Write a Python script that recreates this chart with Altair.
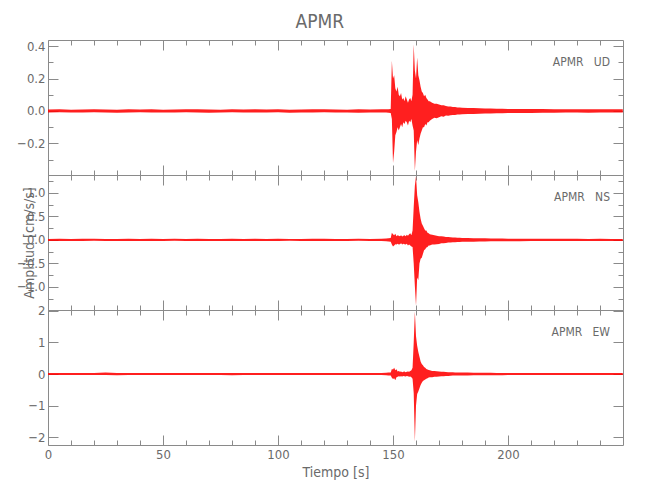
import altair as alt
import pandas as pd

STATION = "APMR"
CHANNELS = ["UD", "NS", "EW"]

# time nodes (s) of the amplitude envelope
TIME = [0, 5, 10, 15, 20, 25, 30, 35, 40, 45, 50, 55, 60, 65, 70, 75, 80, 85, 90, 95,
        100, 105, 110, 115, 120, 125, 130, 135, 140, 145,
        147, 148, 149, 149.5, 150, 150.5, 151, 151.5, 152, 152.5, 153, 153.5, 154, 154.5,
        155, 155.5, 156, 156.5, 157, 157.5, 158, 158.5, 159, 159.5, 160, 160.5, 161, 161.5,
        162, 162.5, 163, 163.5, 164, 164.5, 165, 165.5, 166,
        167, 168, 169, 170, 171, 172, 173, 174, 175, 176, 177, 178, 179, 180,
        182.5, 185, 187.5, 190, 192.5, 195, 197.5, 200,
        205, 210, 215, 220, 225, 230, 235, 240, 245, 249.9]

# UD component: upper / lower envelope (cm/s/s)
UD_HI = [0.009, 0.010, 0.008, 0.009, 0.011, 0.009, 0.008, 0.010, 0.009, 0.010,
         0.008, 0.009, 0.011, 0.010, 0.009, 0.008, 0.010, 0.009, 0.011, 0.009,
         0.010, 0.008, 0.009, 0.010, 0.011, 0.009, 0.008, 0.010, 0.009, 0.010,
         0.010, 0.011, 0.012, 0.31, 0.20, 0.22, 0.14, 0.12, 0.15, 0.10, 0.09, 0.11, 0.07, 0.08,
         0.06, 0.09, 0.07, 0.05, 0.07, 0.08, 0.06, 0.10, 0.41, 0.25, 0.20, 0.33, 0.22, 0.19,
         0.15, 0.12, 0.11, 0.09, 0.10, 0.08, 0.07, 0.06, 0.06,
         0.05, 0.045, 0.045, 0.04, 0.035, 0.035, 0.03, 0.028, 0.027, 0.025, 0.024, 0.022, 0.021, 0.02,
         0.019, 0.018, 0.017, 0.016, 0.015, 0.014, 0.014, 0.013,
         0.013, 0.012, 0.012, 0.011, 0.011, 0.010, 0.010, 0.011, 0.010, 0.010]
UD_LO = [-0.009, -0.008, -0.010, -0.009, -0.008, -0.010, -0.011, -0.009, -0.008, -0.010,
         -0.009, -0.010, -0.008, -0.009, -0.011, -0.010, -0.008, -0.009, -0.010, -0.009,
         -0.008, -0.011, -0.010, -0.009, -0.008, -0.010, -0.009, -0.011, -0.010, -0.009,
         -0.010, -0.011, -0.012, -0.05, -0.32, -0.25, -0.15, -0.13, -0.10, -0.12, -0.10, -0.08, -0.10, -0.07,
         -0.08, -0.06, -0.07, -0.09, -0.06, -0.07, -0.05, -0.09, -0.12, -0.37, -0.25, -0.18, -0.21, -0.17,
         -0.14, -0.12, -0.10, -0.10, -0.08, -0.09, -0.07, -0.07, -0.06,
         -0.05, -0.042, -0.045, -0.038, -0.033, -0.035, -0.028, -0.029, -0.026, -0.025, -0.024, -0.022, -0.021, -0.02,
         -0.019, -0.018, -0.017, -0.016, -0.015, -0.014, -0.014, -0.013,
         -0.012, -0.012, -0.011, -0.011, -0.010, -0.010, -0.011, -0.010, -0.010, -0.010]

# NS component
NS_HI = [0.022, 0.024, 0.020, 0.023, 0.025, 0.021, 0.022, 0.024, 0.020, 0.023,
         0.022, 0.025, 0.021, 0.023, 0.022, 0.020, 0.024, 0.022, 0.023, 0.021,
         0.025, 0.022, 0.020, 0.023, 0.024, 0.022, 0.021, 0.023, 0.022, 0.024,
         0.03, 0.035, 0.04, 0.15, 0.12, 0.10, 0.13, 0.08, 0.10, 0.09, 0.08, 0.10, 0.07, 0.09,
         0.10, 0.08, 0.11, 0.09, 0.12, 0.14, 0.10, 0.20, 0.70, 1.15, 1.36, 0.95, 0.80, 0.60,
         0.45, 0.35, 0.30, 0.25, 0.20, 0.20, 0.15, 0.14, 0.12,
         0.11, 0.10, 0.09, 0.08, 0.08, 0.07, 0.06, 0.06, 0.055, 0.05, 0.05, 0.045, 0.045, 0.04,
         0.04, 0.038, 0.036, 0.034, 0.032, 0.030, 0.028, 0.027,
         0.026, 0.025, 0.024, 0.024, 0.023, 0.023, 0.022, 0.023, 0.022, 0.022]
NS_LO = [-0.023, -0.021, -0.024, -0.022, -0.020, -0.023, -0.025, -0.022, -0.021, -0.024,
         -0.022, -0.020, -0.023, -0.024, -0.021, -0.022, -0.025, -0.023, -0.021, -0.022,
         -0.024, -0.020, -0.022, -0.023, -0.021, -0.024, -0.022, -0.020, -0.023, -0.022,
         -0.03, -0.035, -0.04, -0.10, -0.14, -0.12, -0.09, -0.10, -0.08, -0.10, -0.09, -0.07, -0.10, -0.08,
         -0.09, -0.10, -0.08, -0.12, -0.10, -0.12, -0.14, -0.15, -0.50, -0.98, -1.40, -0.80, -0.85, -0.50,
         -0.40, -0.38, -0.30, -0.22, -0.20, -0.16, -0.15, -0.12, -0.12,
         -0.10, -0.10, -0.09, -0.085, -0.07, -0.07, -0.065, -0.055, -0.055, -0.05, -0.048, -0.045, -0.042, -0.04,
         -0.04, -0.037, -0.035, -0.033, -0.031, -0.030, -0.028, -0.027,
         -0.026, -0.025, -0.024, -0.023, -0.023, -0.022, -0.023, -0.022, -0.022, -0.022]

# EW component
EW_HI = [0.032, 0.034, 0.030, 0.033, 0.035, 0.050, 0.032, 0.034, 0.030, 0.033,
         0.032, 0.035, 0.031, 0.033, 0.032, 0.030, 0.034, 0.032, 0.033, 0.031,
         0.035, 0.032, 0.030, 0.033, 0.034, 0.032, 0.031, 0.033, 0.032, 0.034,
         0.04, 0.045, 0.05, 0.16, 0.14, 0.20, 0.12, 0.15, 0.08, 0.10, 0.07, 0.08, 0.06, 0.07,
         0.08, 0.06, 0.07, 0.08, 0.07, 0.10, 0.12, 0.20, 1.00, 1.98, 1.20, 0.90, 0.70, 0.55,
         0.40, 0.32, 0.28, 0.22, 0.20, 0.16, 0.14, 0.13, 0.12,
         0.10, 0.10, 0.09, 0.08, 0.075, 0.07, 0.065, 0.06, 0.06, 0.055, 0.05, 0.05, 0.048, 0.046,
         0.045, 0.043, 0.041, 0.040, 0.038, 0.036, 0.035, 0.034,
         0.034, 0.033, 0.034, 0.032, 0.033, 0.032, 0.033, 0.032, 0.032, 0.032]
EW_LO = [-0.033, -0.031, -0.034, -0.032, -0.030, -0.033, -0.035, -0.032, -0.031, -0.034,
         -0.032, -0.030, -0.033, -0.034, -0.031, -0.032, -0.035, -0.033, -0.031, -0.032,
         -0.034, -0.030, -0.032, -0.033, -0.031, -0.034, -0.032, -0.030, -0.033, -0.032,
         -0.04, -0.045, -0.05, -0.12, -0.16, -0.13, -0.20, -0.10, -0.09, -0.07, -0.08, -0.07, -0.08, -0.06,
         -0.07, -0.08, -0.06, -0.07, -0.09, -0.08, -0.10, -0.15, -0.60, -2.15, -1.00, -0.63, -0.55, -0.45,
         -0.35, -0.28, -0.22, -0.20, -0.17, -0.15, -0.13, -0.11, -0.10,
         -0.10, -0.09, -0.085, -0.08, -0.07, -0.07, -0.06, -0.06, -0.055, -0.05, -0.05, -0.048, -0.046, -0.045,
         -0.044, -0.042, -0.040, -0.039, -0.037, -0.036, -0.035, -0.034,
         -0.033, -0.034, -0.033, -0.032, -0.033, -0.032, -0.032, -0.033, -0.032, -0.032]

HI = {"UD": UD_HI, "NS": NS_HI, "EW": EW_HI}
LO = {"UD": UD_LO, "NS": NS_LO, "EW": EW_LO}

Y_DOMAIN = {"UD": [-0.394, 0.437], "NS": [-1.49, 1.38], "EW": [-2.25, 2.03]}
Y_TICKS = {"UD": [-0.3, -0.2, -0.1, 0.0, 0.1, 0.2, 0.3, 0.4],
           "NS": [-1.25, -1.0, -0.75, -0.5, -0.25, 0.0, 0.25, 0.5, 0.75, 1.0, 1.25],
           "EW": [-2.0, -1.5, -1.0, -0.5, 0.0, 0.5, 1.0, 1.5, 2.0]}
Y_MAJOR = {"UD": [-0.2, 0.0, 0.2, 0.4],
           "NS": [-1.0, -0.5, 0.0, 0.5, 1.0],
           "EW": [-2.0, -1.0, 0.0, 1.0, 2.0]}
Y_FORMAT = {"UD": ".1f", "NS": ".1f", "EW": "d"}

X_DOMAIN = [0, 249.99]
X_TICKS = [0, 10, 20, 30, 40, 50, 60, 70, 80, 90, 100, 110, 120, 130, 140, 150,
           160, 170, 180, 190, 200, 210, 220, 230, 240]
X_MAJOR = [0, 50, 100, 150, 200]

X_TITLE = "Tiempo [s]"
Y_TITLE = "Amplitud [cm/s/s]"

FONT = "Liberation Sans Narrow, DejaVu Sans Condensed, Liberation Sans, sans-serif"
LINE = "#8a8a8a"
TEXT = "#6a6a6a"
W, H = 575, 135

rows = []
for ch in CHANNELS:
    for t, hi, lo in zip(TIME, HI[ch], LO[ch]):
        rows.append({"channel": ch, "t": t, "hi": hi, "lo": lo})
df = pd.DataFrame(rows)


def major_test(vals):
    arr = ",".join(str(v) for v in vals)
    return f"indexof([{arr}], datum.value) >= 0"


def panel(ch, i):
    d = df[df["channel"] == ch]
    last = i == len(CHANNELS) - 1
    xaxis = dict(values=X_TICKS, domain=False, ticks=False, tickSize=0, grid=True,
                 gridColor=LINE, gridOpacity=1, gridWidth=1,
                 gridDash={"condition": {"test": major_test(X_MAJOR), "value": [10, H - 20, 10, 1000]},
                           "value": [5, H - 10, 5, 1000]},
                 labels=last, labelFlush=False, labelOverlap=False,
                 labelExpr=f"{major_test(X_MAJOR)} ? datum.label : ''",
                 labelColor=TEXT, labelFont=FONT, labelFontSize=13, labelPadding=3,
                 titleColor=TEXT, titleFont=FONT, titleFontSize=14, titleFontWeight="normal",
                 titlePadding=4)
    yaxis = dict(values=Y_TICKS[ch], format=Y_FORMAT[ch], domain=False, ticks=False, tickSize=0,
                 grid=True, gridColor=LINE, gridOpacity=1, gridWidth=1,
                 gridDash={"condition": {"test": major_test(Y_MAJOR[ch]), "value": [10, W - 20, 10, 2000]},
                           "value": [5, W - 10, 5, 2000]},
                 labelOverlap=False, labelFlush=False,
                 labelExpr=f"{major_test(Y_MAJOR[ch])} ? datum.label : ''",
                 labelColor=TEXT, labelFont=FONT, labelFontSize=13, labelPadding=3,
                 titleColor=TEXT, titleFont=FONT, titleFontSize=14, titleFontWeight="normal")
    if ch == "NS":
        yaxis.update(titleX=-15, titleY=H / 2, titleAngle=270, titleBaseline="alphabetic",
                     titleAlign="center")
    area = alt.Chart(d).mark_area(color="#ff0000", opacity=0.88, interpolate="linear").encode(
        x=alt.X("t:Q", scale=alt.Scale(domain=X_DOMAIN, nice=False, zero=False),
                axis=alt.Axis(**xaxis), title=X_TITLE if last else None),
        y=alt.Y("hi:Q", scale=alt.Scale(domain=Y_DOMAIN[ch], nice=False, zero=False),
                axis=alt.Axis(**yaxis), title=Y_TITLE if ch == "NS" else None),
        y2="lo:Q",
    )
    lab = pd.DataFrame({"label": [f"{STATION}\u00a0\u00a0\u00a0{ch}"]})
    text = alt.Chart(lab).mark_text(align="right", baseline="middle", font=FONT, fontSize=12,
                                    color=TEXT).encode(
        x=alt.value(W - 13), y=alt.value(22), text="label:N")
    return alt.layer(area, text).properties(width=W, height=H)


chart = alt.vconcat(*[panel(ch, i) for i, ch in enumerate(CHANNELS)], spacing=0,
                    bounds="flush").properties(
    title=alt.TitleParams(STATION, font=FONT, fontSize=19, fontWeight="normal", color=TEXT,
                          anchor="middle", offset=8),
    padding={"left": 8, "top": 4, "right": 5, "bottom": 5},
).configure_view(stroke=LINE, strokeWidth=1)

chart.save("out.html", embed_options={"renderer": "svg", "actions": False})
